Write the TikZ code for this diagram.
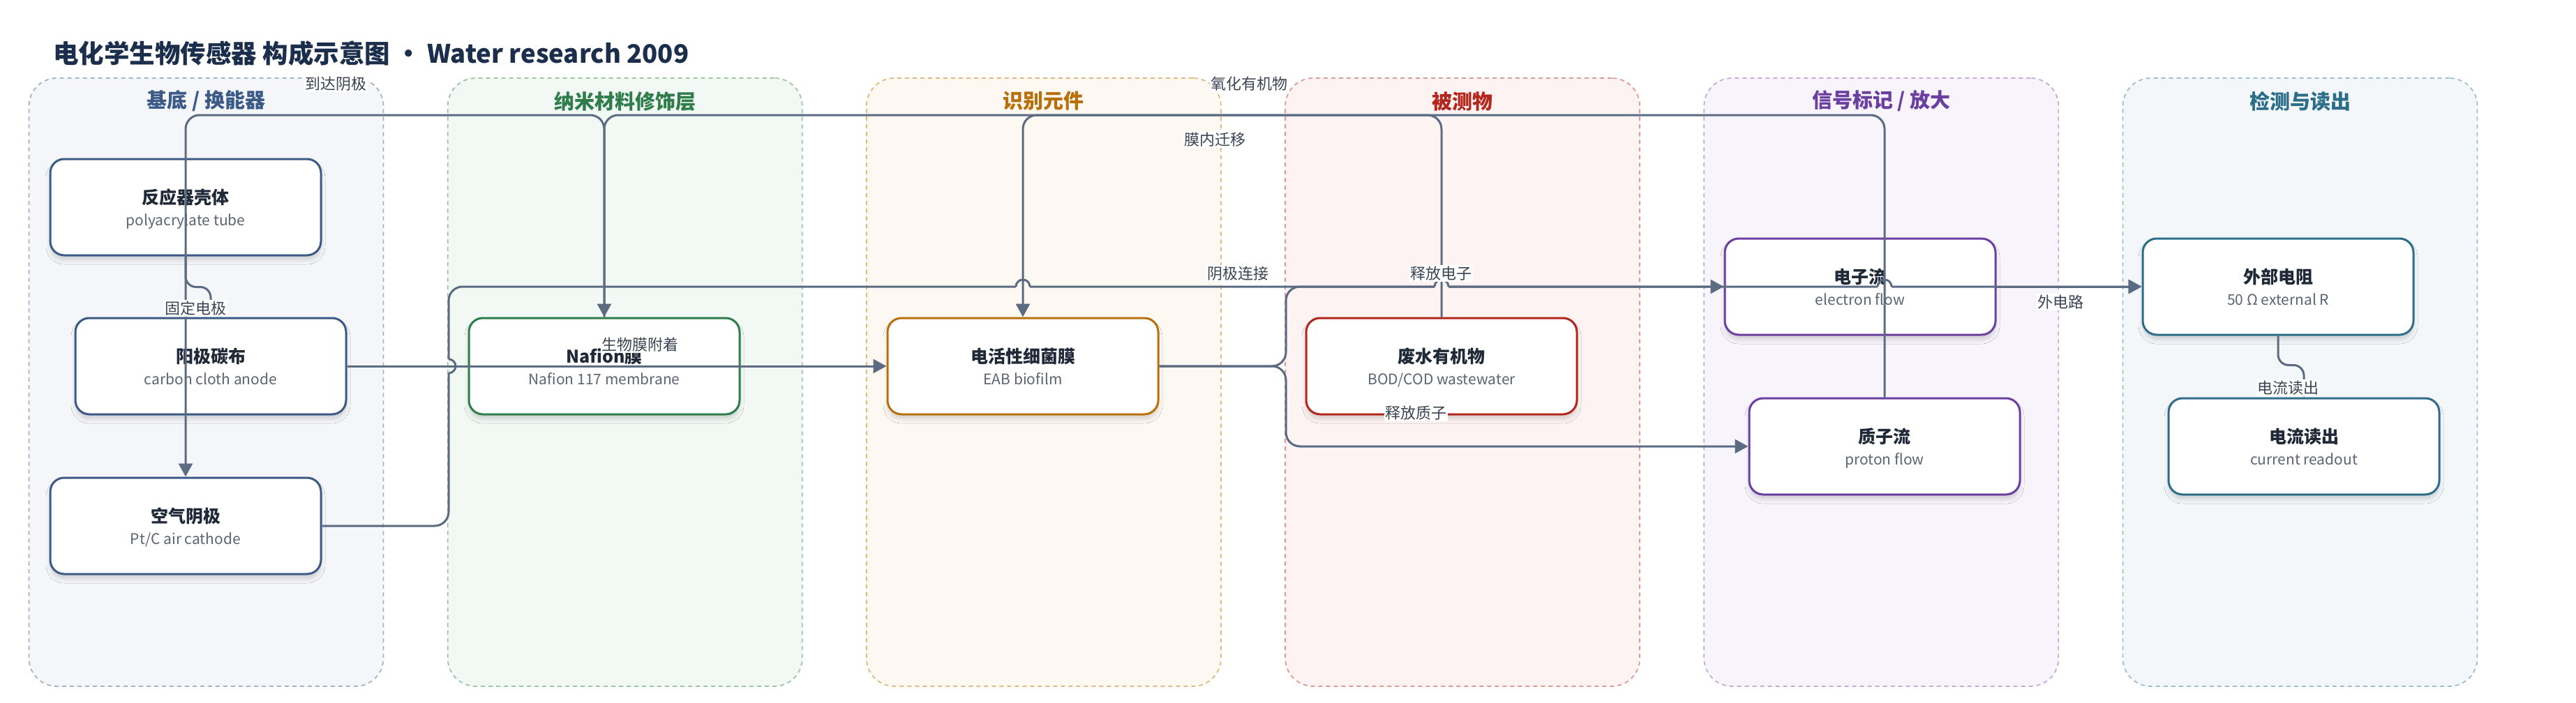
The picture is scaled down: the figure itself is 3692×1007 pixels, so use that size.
\documentclass[tikz,border=0pt]{standalone}
\usepackage{fontspec}
\setmainfont{Noto Sans CJK SC}
\usetikzlibrary{arrows.meta,shadows.blur}

\definecolor{titleink}{HTML}{1B2E4B}
\definecolor{ink}{HTML}{1F2937}
\definecolor{subgray}{HTML}{5B6472}
\definecolor{lblgray}{HTML}{3A4452}
\definecolor{slate}{HTML}{5B6B82}
\definecolor{navy}{HTML}{3B5A85}\definecolor{navyfill}{HTML}{F5F6FA}\definecolor{navydash}{HTML}{A6B2C5}
\definecolor{green}{HTML}{2E7D4A}\definecolor{greenfill}{HTML}{F2F8F4}\definecolor{greendash}{HTML}{9CC6A8}
\definecolor{amber}{HTML}{B7700C}\definecolor{amberfill}{HTML}{FDF8F1}\definecolor{amberdash}{HTML}{E2BA80}
\definecolor{crimson}{HTML}{B3261E}\definecolor{crimsonfill}{HTML}{FDF3F2}\definecolor{crimsondash}{HTML}{E19A96}
\definecolor{violet}{HTML}{6B3FA0}\definecolor{violetfill}{HTML}{F7F4FB}\definecolor{violetdash}{HTML}{C2ABDD}
\definecolor{teal}{HTML}{2C6E8A}\definecolor{tealfill}{HTML}{F3F7F9}\definecolor{tealdash}{HTML}{9EBFCD}

\tikzset{
  lane/.style={draw=#1dash, fill=#1fill, line width=1.8pt, dash pattern=on 6pt off 5pt,
    rounded corners=40pt, minimum width=508pt, minimum height=872pt, inner sep=0pt},
  lanettl/.style={anchor=center, yshift=-34pt, font=\fontsize{29}{34}\selectfont\bfseries},
  box/.style={draw=#1, line width=3pt, fill=white, rounded corners=20pt,
    minimum width=388pt, minimum height=138pt, inner sep=0pt,
    blur shadow={shadow xshift=0pt, shadow yshift=-7pt, shadow blur radius=6pt, shadow opacity=15}},
  ttl/.style={font=\fontsize{25}{30}\selectfont\bfseries, text=ink, yshift=13.5pt,
    text height=21pt, text depth=4pt, inner sep=0pt},
  sub/.style={font=\fontsize{21}{25}\selectfont, text=subgray, yshift=-21pt,
    text height=15pt, text depth=5pt, inner sep=0pt},
  link/.style={draw=slate, line width=3pt, -{Triangle[length=19pt,width=20pt]}},
  hop/.style={draw=slate, line width=3pt},
  elabel/.style={fill=white, inner sep=1.5pt, font=\fontsize{22}{26}\selectfont, text=lblgray},
}

\begin{document}
\begin{tikzpicture}[x=1pt, y=-1pt]
    \fill[white] (0,0) rectangle (3692,1007);
    \useasboundingbox (0,0) rectangle (3692,1007);

    \node[anchor=west, inner sep=0pt, font=\fontsize{36.5}{44}\selectfont\bfseries, text=titleink] (title) at (76,77)
      {电化学生物传感器 构成示意图 · Water research 2009};

    %––––– lanes –––––
    \foreach \n/\col/\ttl [count=\i from 0] in {base/navy/{基底 / 换能器}, nano/green/{纳米材料修饰层},
        rec/amber/{识别元件}, ana/crimson/{被测物}, sig/violet/{信号标记 / 放大}, det/teal/{检测与读出}}
      \node[lane=\col, label={[lanettl, text=\col]north:\ttl}] (lane-\n) at (295.5+600.2*\i,548) {};

    %––––– lane 1 –––––
    \node (shell) at (266,297) [box=navy, label={[ttl]center:反应器壳体}, label={[sub]center:polyacrylate tube}] {};
    \node (anode) at (302,525) [box=navy, label={[ttl]center:阳极碳布}, label={[sub]center:carbon cloth anode}] {};
    \node (cath) at (266,754) [box=navy, label={[ttl]center:空气阴极}, label={[sub]center:Pt/C air cathode}] {};

    %––––– lane 2 –––––
    \node (naf) at (866,525) [box=green, label={[ttl]center:Nafion膜}, label={[sub]center:Nafion 117 membrane}] {};

    %––––– lane 3 –––––
    \node (eab) at (1466,525) [box=amber, label={[ttl]center:电活性细菌膜}, label={[sub]center:EAB biofilm}] {};

    %––––– lane 4 –––––
    \node (waste) at (2066,525) [box=crimson, label={[ttl]center:废水有机物}, label={[sub]center:BOD/COD wastewater}] {};

    %––––– lane 5 –––––
    \node (elec) at (2666,411) [box=violet, label={[ttl]center:电子流}, label={[sub]center:electron flow}] {};
    \node (proton) at (2701,640) [box=violet, label={[ttl]center:质子流}, label={[sub]center:proton flow}] {};

    %––––– lane 6 –––––
    \node (res) at (3265,411) [box=teal, label={[ttl]center:外部电阻}, label={[sub]center:50 Ω external R}] {};
    \node (readout) at (3302,640) [box=teal, label={[ttl]center:电流读出}, label={[sub]center:current readout}] {};

    %––––– connectors –––––
    \coordinate (bus) at (0,165);
    \draw[link, rounded corners=15pt] (shell.south) -- ++(0,44) -| (anode.north);
    \draw[link, rounded corners=20pt] (naf.north) -- (naf.north |- bus) -| (cath.north);
    \draw[link, rounded corners=20pt] (proton.north) -- (proton.north |- bus) -| (naf.north);
    \draw[link, rounded corners=20pt] (waste.north) -- (waste.north |- bus) -| (eab.north);
    \draw[link] (anode.east) -- (eab.west);
    \draw[link, rounded corners=20pt] (cath.east) -- (643,754) -- (643,535) (643,515) -- (643,411) -- (1456,411)
      (1476,411) -- (2056,411) (2076,411) -- (2691,411) (2711,411) -- (res.west);
    \draw[link, rounded corners=20pt] (eab.east) -- (1843,525) -- (1843,411) -- (2056,411) (2076,411) -- (elec.west);
    \draw[link, rounded corners=20pt] (eab.east) -- (1843,525) -- (1843,640) -- (proton.west);
    \draw[link] (elec.east) -- (res.west);
    \draw[link, rounded corners=15pt] (res.south) -- ++(0,42) -| (readout.north);
    % line hops
    \draw[hop] (643,535) arc[start angle=90, end angle=-90, radius=10]
      (1456,411) arc[start angle=180, end angle=360, radius=10]
      (2056,411) arc[start angle=180, end angle=360, radius=10]
      (2691,411) arc[start angle=180, end angle=360, radius=10];

    %––––– connector labels –––––
    \node[elabel] (l-fix) at (280,442) {固定电极};
    \node[elabel] (l-arrive) at (481,120) {到达阴极};
    \node[elabel] (l-attach) at (917,494) {生物膜附着};
    \node[elabel] (l-migrate) at (1741,200) {膜内迁移};
    \node[elabel] (l-oxid) at (1790,120) {氧化有机物};
    \node[elabel] (l-cathlink) at (1774,392) {阴极连接};
    \node[elabel] (l-electron) at (2065,392) {释放电子};
    \node[elabel] (l-proton) at (2029,592) {释放质子};
    \node[elabel] (l-circuit) at (2953,433) {外电路};
    \node[elabel] (l-read) at (3279,556) {电流读出};
  \end{tikzpicture}
\end{document}
